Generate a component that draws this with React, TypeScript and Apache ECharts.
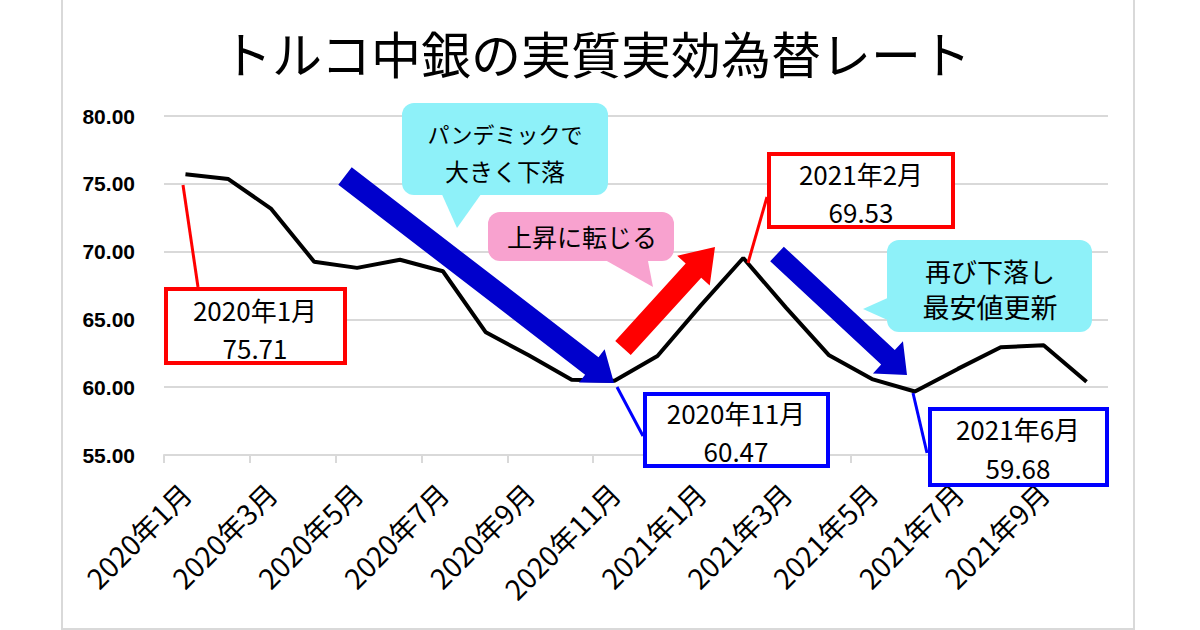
import React, { useEffect, useRef } from "react";
import * as echarts from "echarts";

const categories = [
  "2020年1月", "2020年2月", "2020年3月", "2020年4月", "2020年5月", "2020年6月",
  "2020年7月", "2020年8月", "2020年9月", "2020年10月", "2020年11月", "2020年12月",
  "2021年1月", "2021年2月", "2021年3月", "2021年4月", "2021年5月", "2021年6月",
  "2021年7月", "2021年8月", "2021年9月", "2021年10月",
];
const values = [
  75.71, 75.35, 73.15, 69.25, 68.8, 69.4, 68.55, 64.05, 62.35, 60.55, 60.47,
  62.3, 66.0, 69.53, 65.85, 62.35, 60.6, 59.68, 61.35, 62.95, 63.1, 60.4,
];
const yMin = 55;
const yMax = 80;
const yStep = 5;

const titleText = "トルコ中銀の実質実効為替レート";
const callouts = [
  { lines: ["パンデミックで", "大きく下落"], color: "#8ef1f9" },
  { lines: ["上昇に転じる"], color: "#f8a2cf" },
  { lines: ["再び下落し", "最安値更新"], color: "#8ef1f9" },
];
const boxes = [
  { lines: ["2020年1月", "75.71"], color: "#ff0000" },
  { lines: ["2020年11月", "60.47"], color: "#0000ff" },
  { lines: ["2021年2月", "69.53"], color: "#ff0000" },
  { lines: ["2021年6月", "59.68"], color: "#0000ff" },
];

const JP = '"Noto Sans CJK JP", "Noto Sans", sans-serif';

function arrowPts(tail: number[], tip: number[], sw: number, hw: number, hl: number) {
  const dx = tip[0] - tail[0];
  const dy = tip[1] - tail[1];
  const L = Math.hypot(dx, dy);
  const d = [dx / L, dy / L];
  const n = [-d[1], d[0]];
  const base = [tip[0] - d[0] * hl, tip[1] - d[1] * hl];
  const p = (o: number[], k: number) => [o[0] + n[0] * k, o[1] + n[1] * k];
  return [p(tail, sw / 2), p(base, sw / 2), p(base, hw / 2), tip, p(base, -hw / 2), p(base, -sw / 2), p(tail, -sw / 2)];
}

function txt(text: string, x: number, y: number, size: number) {
  return {
    type: "text",
    z: 110,
    style: {
      text,
      x,
      y,
      fill: "#000",
      fontSize: size,
      fontFamily: JP,
      align: "center",
      verticalAlign: "middle",
      textAlign: "center",
      textVerticalAlign: "middle",
    },
  };
}

function buildGraphic() {
  const g: any[] = [];
  // outer border
  g.push({
    type: "rect",
    z: 1,
    shape: { x: 62, y: -5, width: 1072, height: 634 },
    style: { fill: "none", stroke: "#d9d9d9", lineWidth: 2 },
  });
  // leader lines
  const leaders = [
    { p: [183, 185, 198, 287], c: boxes[0].color },
    { p: [617, 387, 643, 436], c: boxes[1].color },
    { p: [748, 263, 767, 197], c: boxes[2].color },
    { p: [913, 393, 927, 453], c: boxes[3].color },
  ];
  leaders.forEach((l) =>
    g.push({
      type: "line",
      z: 100,
      shape: { x1: l.p[0], y1: l.p[1], x2: l.p[2], y2: l.p[3] },
      style: { stroke: l.c, lineWidth: 3 },
    })
  );
  // boxes
  const boxGeo = [
    { r: [164, 287, 347, 365], t: [255, 309, 347] },
    { r: [643, 392, 830, 468], t: [736, 412, 450] },
    { r: [767, 152, 955, 229], t: [861, 173, 211] },
    { r: [928, 407, 1109, 487], t: [1018, 428, 467] },
  ];
  boxGeo.forEach((b, i) => {
    const lw = 4;
    g.push({
      type: "rect",
      z: 105,
      shape: { x: b.r[0] + lw / 2, y: b.r[1] + lw / 2, width: b.r[2] - b.r[0] - lw, height: b.r[3] - b.r[1] - lw },
      style: { fill: "#fff", stroke: boxes[i].color, lineWidth: lw },
    });
    g.push(txt(boxes[i].lines[0], b.t[0], b.t[1], 26));
    g.push(txt(boxes[i].lines[1], b.t[0], b.t[2], 26));
  });
  // arrows
  const arrows = [
    { pts: arrowPts([345, 176], [614, 383], 22, 42, 28), c: "#0000cc" },
    { pts: arrowPts([623, 348], [715, 247], 21, 44, 32), c: "#ff0000" },
    { pts: arrowPts([777, 254], [907, 375], 20, 44, 26), c: "#0000cc" },
  ];
  arrows.forEach((a) =>
    g.push({ type: "polygon", z: 102, shape: { points: a.pts }, style: { fill: a.c } })
  );
  // callouts
  const calloutGeo = [
    { r: [402, 103, 608, 195], tail: [[440, 190], [484, 190], [457, 228]], t: [505, 133, 170], fs: [22, 24] },
    { r: [488, 212, 674, 261], tail: [[598, 256], [647, 256], [653, 287]], t: [582, 236], fs: [25] },
    { r: [887, 240, 1092, 332], tail: [[892, 296], [892, 322], [863, 309]], t: [990, 270, 306], fs: [26, 27] },
  ];
  calloutGeo.forEach((c, i) => {
    g.push({
      type: "rect",
      z: 106,
      shape: { x: c.r[0], y: c.r[1], width: c.r[2] - c.r[0], height: c.r[3] - c.r[1], r: 12 },
      style: { fill: callouts[i].color },
    });
    g.push({ type: "polygon", z: 106, shape: { points: c.tail }, style: { fill: callouts[i].color } });
    callouts[i].lines.forEach((line, k) => g.push(txt(line, c.t[0], c.t[1 + k], c.fs[k])));
  });
  return g;
}

export default function App() {
  const ref = useRef<HTMLDivElement>(null);
  useEffect(() => {
    if (!ref.current) return;
    const chart = echarts.init(ref.current, null, { renderer: "svg" });
    chart.setOption({
      animation: false,
      backgroundColor: "#fff",
      title: {
        text: titleText,
        left: 222,
        top: 27,
        padding: 0,
        textStyle: { fontSize: 50, fontWeight: "normal", color: "#000", fontFamily: JP },
      },
      grid: { left: 164, right: 92, top: 116, bottom: 175, containLabel: false },
      xAxis: {
        type: "category",
        data: categories,
        boundaryGap: true,
        axisLine: { show: true, lineStyle: { color: "#d9d9d9", width: 2 } },
        axisTick: { show: true, interval: 1, length: 8, lineStyle: { color: "#d9d9d9", width: 2 } },
        axisLabel: {
          interval: 1,
          rotate: 45,
          margin: 33,
          fontSize: 28,
          color: "#000",
          fontFamily: JP,
        },
      },
      yAxis: {
        type: "value",
        min: yMin,
        max: yMax,
        interval: yStep,
        axisLine: { show: false },
        axisTick: { show: false },
        splitLine: { lineStyle: { color: "#d9d9d9", width: 2 } },
        axisLabel: {
          margin: 29,
          fontSize: 21,
          fontWeight: "bold",
          color: "#000",
          fontFamily: '"Liberation Sans", Arial, sans-serif',
          formatter: (v: number) => v.toFixed(2),
        },
      },
      series: [
        {
          type: "line",
          data: values,
          symbol: "none",
          lineStyle: { color: "#000", width: 4 },
          z: 3,
        },
      ],
      graphic: { elements: buildGraphic() },
    });
    return () => chart.dispose();
  }, []);
  return (
    <div
      ref={ref}
      style={{ position: "fixed", left: 0, top: 0, width: 1200, height: 630, background: "#fff" }}
    />
  );
}
